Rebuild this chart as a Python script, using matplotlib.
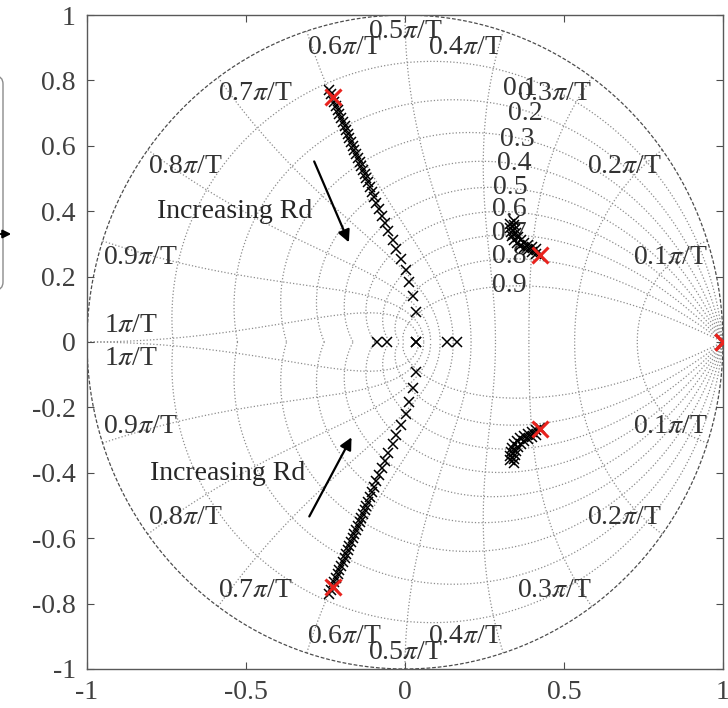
import numpy as np
import matplotlib.pyplot as plt
from matplotlib.patches import FancyBboxPatch

plt.rcParams['font.family'] = ['Liberation Serif', 'DejaVu Serif']
plt.rcParams['mathtext.fontset'] = 'stix'

# pole locus, upper half plane (lower half = complex conjugates)
branch_re = [-0.239, -0.233, -0.226, -0.222, -0.217, -0.211, -0.206, -0.201, -0.195, -0.190,
             -0.186, -0.179, -0.175, -0.170, -0.164, -0.159, -0.154, -0.148, -0.143, -0.138,
             -0.132, -0.127, -0.123, -0.116, -0.110, -0.104, -0.097, -0.090, -0.082, -0.072,
             -0.063, -0.052, -0.039, -0.027, -0.013, 0.002, 0.014, 0.025, 0.035]
branch_im = [0.771, 0.758, 0.746, 0.734, 0.722, 0.709, 0.697, 0.685, 0.673, 0.661,
             0.648, 0.636, 0.624, 0.612, 0.599, 0.587, 0.575, 0.563, 0.550, 0.538,
             0.526, 0.514, 0.502, 0.489, 0.474, 0.459, 0.443, 0.425, 0.407, 0.385,
             0.364, 0.339, 0.312, 0.284, 0.254, 0.220, 0.183, 0.141, 0.092]

cluster_re = [0.425, 0.412, 0.399, 0.387, 0.374, 0.362, 0.352, 0.343, 0.337, 0.333, 0.330, 0.330,
              0.412, 0.399, 0.387, 0.374, 0.365, 0.355, 0.349, 0.346, 0.343, 0.343]
cluster_im = [0.263, 0.269, 0.275, 0.281, 0.287, 0.294, 0.303, 0.312, 0.324, 0.336, 0.349, 0.361,
              0.284, 0.291, 0.297, 0.303, 0.312, 0.321, 0.333, 0.346, 0.358, 0.370]

real_poles = [-0.088, -0.057, 0.035, 0.035, 0.132, 0.164, 1.0]

# initial poles (red)
start_re = [-0.226, 0.425, 1.0]
start_im = [0.749, 0.266, 0.0]

zeta_vals = [0.1, 0.2, 0.3, 0.4, 0.5, 0.6, 0.7, 0.8, 0.9]
wn_vals = [0.1, 0.2, 0.3, 0.4, 0.5, 0.6, 0.7, 0.8, 0.9, 1.0]   # x pi/T
xticks = [-1, -0.5, 0, 0.5, 1]
yticks = [-1, -0.8, -0.6, -0.4, -0.2, 0, 0.2, 0.4, 0.6, 0.8, 1]

fig = plt.figure(figsize=(7.28, 7.08), dpi=100)

# bit of the neighbouring figure on the left edge
ax0 = fig.add_axes([0, 0, 1, 1], zorder=-1)
ax0.set_xlim(0, 728)
ax0.set_ylim(708, 0)
ax0.axis('off')
ax0.add_patch(FancyBboxPatch((-100, 76), 103, 214, boxstyle='round,pad=0,rounding_size=8',
                             ec='0.55', fc='none', lw=1.0))
ax0.annotate('', xy=(14, 234), xytext=(-2, 234),
             arrowprops=dict(arrowstyle='-|>', color='black', lw=1.5, mutation_scale=12))

ax = fig.add_axes([0.1195, 0.0551, 0.8736, 0.9237])

# z-plane grid (zgrid style)
grid_kw = dict(color='0.55', ls=':', lw=0.9, zorder=1)
th = np.linspace(0, np.pi, 200)
for z in zeta_vals:
    k = z / np.sqrt(1 - z ** 2)
    zz = np.exp(-k * th) * np.exp(1j * th)
    ax.plot(zz.real, zz.imag, **grid_kw)
    ax.plot(zz.real, -zz.imag, **grid_kw)
zs = np.linspace(0, 1, 200)
for w in wn_vals:
    zz = np.exp(w * np.pi * (-zs + 1j * np.sqrt(1 - zs ** 2)))
    ax.plot(zz.real, zz.imag, **grid_kw)
    ax.plot(zz.real, -zz.imag, **grid_kw)

# unit circle
phi = np.linspace(0, 2 * np.pi, 400)
ax.plot(np.cos(phi), np.sin(phi), color='0.3', ls=(0, (3, 1.5)), lw=0.9, zorder=2)

# grid labels
fs = 20
txt_kw = dict(fontsize=fs, color='0.2', zorder=3)
for w in wn_vals:
    lab = f'{w:g}$\\pi$/T'
    if w == 1.0:
        lab = '1$\\pi$/T'
        ax.text(-0.945, 0.05, lab, ha='left', va='center', **txt_kw)
        ax.text(-0.945, -0.05, lab, ha='left', va='center', **txt_kw)
        continue
    cx, cy = np.cos(w * np.pi), np.sin(w * np.pi)
    ha = 'left' if w > 0.5 else ('right' if w < 0.5 else 'center')
    ax.text(cx, cy - 0.05, lab, ha=ha, va='center', **txt_kw)
    ax.text(cx, -(cy - 0.05), lab, ha=ha, va='center', **txt_kw)

zeta_lab_x = [0.308, 0.324, 0.299, 0.289, 0.277, 0.274, 0.274, 0.274, 0.274]
zeta_lab_y = [0.774, 0.70, 0.618, 0.547, 0.471, 0.404, 0.333, 0.26, 0.174]
for z, lx, ly in zip(zeta_vals, zeta_lab_x, zeta_lab_y):
    ax.text(lx, ly, f'{z:g}', ha='left', va='center', **txt_kw)

# poles
mk = dict(ls='none', marker='x', color='black', ms=7, mew=1.1, zorder=4)
ax.plot(branch_re, branch_im, **mk)
ax.plot(branch_re, -np.array(branch_im), **mk)
ax.plot(cluster_re, cluster_im, **mk)
ax.plot(cluster_re, -np.array(cluster_im), **mk)
ax.plot(real_poles, np.zeros(len(real_poles)), **mk)
ax.plot(start_re + start_re, start_im + [-v for v in start_im], ls='none', marker='x',
        color='#e8231e', ms=12, mew=2.2, zorder=5)

# annotations
ax.text(-0.535, 0.398, 'Increasing Rd', fontsize=fs, color='0.15', ha='center', va='center', zorder=6)
ax.text(-0.557, -0.401, 'Increasing Rd', fontsize=fs, color='0.15', ha='center', va='center', zorder=6)
arr = dict(arrowstyle='-|>', color='black', lw=1.6, mutation_scale=18)
ax.annotate('', xy=(-0.173, 0.297), xytext=(-0.289, 0.560), arrowprops=arr, zorder=6)
ax.annotate('', xy=(-0.164, -0.284), xytext=(-0.305, -0.541), arrowprops=arr, zorder=6)

ax.set_xlim(-1, 1)
ax.set_ylim(-1, 1)
ax.set_xticks(xticks)
ax.set_xticklabels([f'{v:g}' for v in xticks])
ax.set_yticks(yticks)
ax.set_yticklabels([f'{v:g}' for v in yticks])
ax.tick_params(direction='in', top=True, right=True, length=5, width=0.8,
               labelsize=fs, labelcolor='0.25', color='0.3', pad=8)
for s in ax.spines.values():
    s.set_color('0.35')
    s.set_linewidth(1.0)

fig.savefig('out.png', dpi=100)
